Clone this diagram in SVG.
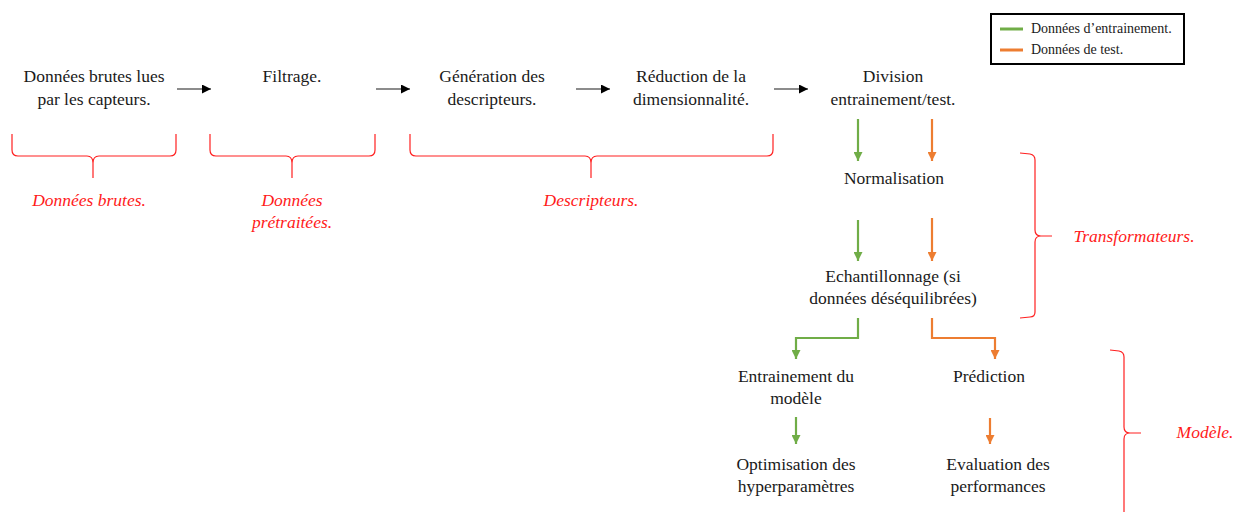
<svg xmlns="http://www.w3.org/2000/svg" width="1234" height="512" viewBox="0 0 1234 512">
  <style>
    .t { font-family: "Liberation Serif", "Times New Roman", serif; font-size: 17.5px; fill: #1a1a1a; text-anchor: middle; }
    .lab { font-family: "Liberation Serif", "Times New Roman", serif; font-size: 17.5px; font-style: italic; fill: #ff1a1a; text-anchor: middle; }
    .leg { font-family: "Liberation Serif", "Times New Roman", serif; font-size: 14px; fill: #1a1a1a; }
    .blk { stroke: #1a1a1a; stroke-width: 1.2; fill: none; marker-end: url(#hb); }
    .grn { stroke: #70ad47; stroke-width: 2.2; fill: none; marker-end: url(#hg); }
    .org { stroke: #ed7d31; stroke-width: 2.2; fill: none; marker-end: url(#ho); }
    .brace { stroke: #ff2020; stroke-width: 1.2; fill: none; }
  </style>
  <defs>
    <marker id="hb" viewBox="0 0 10 10" refX="10" refY="5" markerWidth="9" markerHeight="9" markerUnits="userSpaceOnUse" orient="auto">
      <path d="M0,0 L10,5 L0,10 Z" fill="#000"/>
    </marker>
    <marker id="hg" viewBox="0 0 10 10" refX="10" refY="5" markerWidth="9" markerHeight="9" markerUnits="userSpaceOnUse" orient="auto">
      <path d="M0,0 L10,5 L0,10 Z" fill="#70ad47"/>
    </marker>
    <marker id="ho" viewBox="0 0 10 10" refX="10" refY="5" markerWidth="9" markerHeight="9" markerUnits="userSpaceOnUse" orient="auto">
      <path d="M0,0 L10,5 L0,10 Z" fill="#ed7d31"/>
    </marker>
  </defs>
  <rect width="1234" height="512" fill="#fff"/>

  <!-- legend -->
  <g id="legend">
    <rect x="991" y="14" width="193" height="50" fill="#fff" stroke="#000" stroke-width="2"/>
    <line x1="1000" y1="29" x2="1023" y2="29" stroke="#70ad47" stroke-width="3"/>
    <text class="leg" x="1031" y="33">Données d’entrainement.</text>
    <line x1="1000" y1="50" x2="1023" y2="50" stroke="#ed7d31" stroke-width="3"/>
    <text class="leg" x="1031" y="54">Données de test.</text>
  </g>

  <!-- pipeline steps -->
  <g id="n-brutes"><text class="t" x="94" y="82">Données brutes lues</text><text class="t" x="94" y="105">par les capteurs.</text></g>
  <g id="n-filtrage"><text class="t" x="292" y="82">Filtrage.</text></g>
  <g id="n-generation"><text class="t" x="492" y="82">Génération des</text><text class="t" x="492" y="105">descripteurs.</text></g>
  <g id="n-reduction"><text class="t" x="691" y="82">Réduction de la</text><text class="t" x="691" y="105">dimensionnalité.</text></g>
  <g id="n-division"><text class="t" x="893" y="82">Division</text><text class="t" x="893" y="105">entrainement/test.</text></g>
  <g id="n-normalisation"><text class="t" x="894" y="184">Normalisation</text></g>
  <g id="n-echantillonnage"><text class="t" x="893" y="282">Echantillonnage (si</text><text class="t" x="893" y="304">données déséquilibrées)</text></g>
  <g id="n-entrainement"><text class="t" x="796" y="382">Entrainement du</text><text class="t" x="796" y="404">modèle</text></g>
  <g id="n-prediction"><text class="t" x="989" y="382">Prédiction</text></g>
  <g id="n-optimisation"><text class="t" x="796" y="470">Optimisation des</text><text class="t" x="796" y="492">hyperparamètres</text></g>
  <g id="n-evaluation"><text class="t" x="998" y="470">Evaluation des</text><text class="t" x="998" y="492">performances</text></g>

  <!-- connectors -->
  <g id="connectors">
    <line class="blk" x1="177" y1="89" x2="211" y2="89"/>
    <line class="blk" x1="376" y1="89" x2="410" y2="89"/>
    <line class="blk" x1="576" y1="89" x2="610" y2="89"/>
    <line class="blk" x1="774" y1="89" x2="808" y2="89"/>

    <line class="grn" x1="858" y1="119" x2="858" y2="161"/>
    <line class="org" x1="932" y1="119" x2="932" y2="161"/>
    <line class="grn" x1="858" y1="220" x2="858" y2="261"/>
    <line class="org" x1="932" y1="218" x2="932" y2="261"/>

    <polyline class="grn" points="858,318 858,338 796,338 796,359"/>
    <polyline class="org" points="932,318 932,338 995,338 995,359"/>

    <line class="grn" x1="796" y1="417" x2="796" y2="444"/>
    <line class="org" x1="990" y1="418" x2="990" y2="444"/>
  </g>

  <!-- category braces -->
  <g id="brace-brutes">
    <path class="brace" d="M12,134 L12,150 Q12,156 18,156 L87,156 Q93,156 93,163 L93,178 M93,163 Q93,156 99,156 L170,156 Q176,156 176,150 L176,134"/>
    <text class="lab" x="89" y="206">Données brutes.</text>
  </g>
  <g id="brace-pretraitees">
    <path class="brace" d="M210,134 L210,150 Q210,156 216,156 L286,156 Q292,156 292,163 L292,178 M292,163 Q292,156 298,156 L369,156 Q375,156 375,150 L375,134"/>
    <text class="lab" x="292" y="206">Données</text>
    <text class="lab" x="292" y="228">prétraitées.</text>
  </g>
  <g id="brace-descripteurs">
    <path class="brace" d="M410,134 L410,150 Q410,156 416,156 L585,156 Q591,156 591,163 L591,178 M591,163 Q591,156 597,156 L767,156 Q773,156 773,150 L773,134"/>
    <text class="lab" x="591" y="206">Descripteurs.</text>
  </g>
  <g id="brace-transformateurs">
    <path class="brace" d="M1020,153 L1030,154 Q1035,155 1035,160 L1035,230 Q1035,236 1041,236 L1052,236 M1041,236 Q1035,236 1035,242 L1035,312 Q1035,317 1030,317 L1020,318"/>
    <text class="lab" x="1134" y="242">Transformateurs.</text>
  </g>
  <g id="brace-modele">
    <path class="brace" d="M1110,350 L1119,351 Q1124,352 1124,357 L1124,427 Q1124,433 1130,433 L1141,433 M1130,433 Q1124,433 1124,439 L1124,512"/>
    <text class="lab" x="1205" y="438">Modèle.</text>
  </g>
</svg>
